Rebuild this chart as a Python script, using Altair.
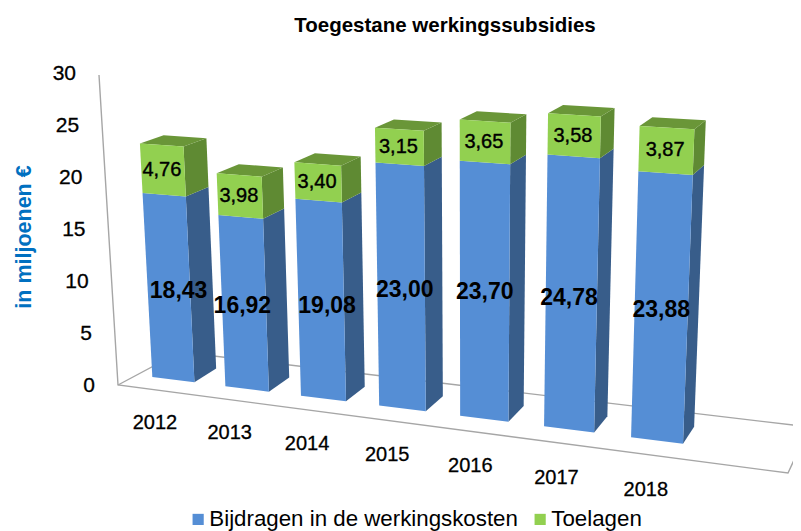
import numpy as np
import altair as alt

# ---- chart values ----
years = ["2012", "2013", "2014", "2015", "2016", "2017", "2018"]
bijdragen = [18.43, 16.92, 19.08, 23.00, 23.70, 24.78, 23.88]
toelagen = [4.76, 3.98, 3.40, 3.15, 3.65, 3.58, 3.87]
ticks = [0, 5, 10, 15, 20, 25, 30]
series_names = ["Bijdragen in de werkingskosten", "Toelagen"]

# ---- view: a 3-D perspective camera, calibrated against the bars' corners ----
OX, OY, W, H = 8, 48, 785, 483
BAR_W = 0.58
CAL = [  # front-bottom L,R / back-bottom R / mid L,R / top front L,R / top back R,L
    [(152,377),(194,381),(217,369),(143,192),(186,196),(140,143),(184,147),(207,138),(163,135)],
    [(226,386),(268,390),(289,378),(218,216),(262,219),(217,173),(261,177),(284,167),(237,164)],
    [(301,397),(346,401),(365,386),(296,198),(343,203),(294,163),(342,166),(361,157),(313,154)],
    [(380,406),(426,412),(443,397),(377,163),(425,166),(376,127),(424,131),(442,122),(394,119)],
    [(459,416),(508,422),(524,407),(459,161),(509,164),(459,120),(509,123),(527,114),(477,112)],
    [(544,426),(594,433),(607,417),(547,155),(599,159),(548,113),(601,116),(616,108),(562,106)],
    [(632,437),(683,445),(694,423),(639,171),(693,175),(640,125),(694,128),(706,120),(652,118)],
]
rows, rhs = [], []
for i, pts in enumerate(CAL):
    b, t = bijdragen[i], bijdragen[i] + toelagen[i]
    world = [(i,0,0),(i+BAR_W,0,0),(i+BAR_W,1,0),(i,0,b),(i+BAR_W,0,b),(i,0,t),(i+BAR_W,0,t),(i+BAR_W,1,t),(i,1,t)]
    for (u,d,v),(px,py) in zip(world, pts):
        rows.append([u,d,v,1,0,0,0,0,-px*u,-px*d,-px*v]); rhs.append(px)
        rows.append([0,0,0,0,u,d,v,1,-py*u,-py*d,-py*v]); rhs.append(py)
P = np.linalg.lstsq(np.array(rows,float), np.array(rhs,float), rcond=None)[0]
def proj(u,d,v):
    w = P[8]*u + P[9]*d + P[10]*v + 1
    return (float((P[0]*u+P[1]*d+P[2]*v+P[3])/w), float((P[4]*u+P[5]*d+P[6]*v+P[7])/w))

def poly(corners, **props):
    ring = [list(proj(*c)) for c in corners]
    ring.append(ring[0])
    return {"type":"Feature","properties":props,"geometry":{"type":"Polygon","coordinates":[ring]}}

fronts, sides, tops = [], [], []
for i in range(len(years)):
    a, b = i, i + BAR_W
    base = 0
    for name, val, side_col in zip(series_names, (bijdragen[i], toelagen[i]), ("#385D8A", "#5F8A33")):
        top = base + val
        fronts.append(poly([(a,0,base),(b,0,base),(b,0,top),(a,0,top)], series=name))
        sides.append(poly([(b,0,base),(b,1,base),(b,1,top),(b,0,top)], col=side_col))
        base = top
    tops.append(poly([(a,0,base),(b,0,base),(b,1,base),(a,1,base)], col="#6A9638"))

geo = dict(type="identity", scale=1, translate=[-OX, -OY])
x_s = alt.X("x:Q", scale=alt.Scale(domain=[OX, OX+W]), axis=None)
y_s = alt.Y("y:Q", scale=alt.Scale(domain=[OY+H, OY]), axis=None)

frame_lines = [
    [(99,75),(118,385),(788,473),(801,445)],
    [(118,385),(180,352),(801,426)],
]
frame = alt.Chart(alt.Data(values=[{"type":"Feature","properties":{},"geometry":{"type":"LineString","coordinates":[list(p) for p in l]}} for l in frame_lines])
    ).mark_geoshape(filled=False, stroke="#A6A6A6", strokeWidth=1.4).project(**geo)
side_l = alt.Chart(alt.Data(values=sides)).mark_geoshape(strokeWidth=0).encode(fill=alt.Fill("properties.col:N", scale=None, legend=None)).project(**geo)
top_l = alt.Chart(alt.Data(values=tops)).mark_geoshape(strokeWidth=0).encode(fill=alt.Fill("properties.col:N", scale=None, legend=None)).project(**geo)
front_l = alt.Chart(alt.Data(values=fronts)).mark_geoshape(strokeWidth=0).encode(
    color=alt.Color("properties.series:N", sort=series_names,
        scale=alt.Scale(domain=series_names, range=["#558ED5", "#92D050"]),
        legend=alt.Legend(title=None, orient="none", legendX=187-OX, legendY=508-OY, direction="horizontal",
                          symbolType="square", symbolSize=125, labelFontSize=22.3, labelFont="Liberation Sans",
                          labelColor="#000000", columnPadding=11, symbolStrokeWidth=0, labelOffset=0, labelLimit=400))).project(**geo)

font = "Liberation Sans"
def text_layer(rows, size, bold=False, align="center", color="#000000", thick=0.0):
    kw = dict(stroke=color, strokeWidth=thick) if thick else {}
    return alt.Chart(alt.Data(values=rows)).mark_text(font=font, fontSize=size, fontWeight="bold" if bold else "normal",
        align=align, baseline="middle", color=color, **kw).encode(x=x_s, y=y_s, text="t:N")

# small placement corrections of the labels, in pixels
blue_dx, blue_dy = [5,-6,2,0,-3,-5,-2], [0,-1,2,-2,-4,-1,-3]
blue_rows, green_rows, year_rows = [], [], []
for i in range(len(years)):
    c = i + BAR_W/2
    x, y = proj(c, 0.2, bijdragen[i]/2 - 0.5)
    blue_rows.append({"x":x+blue_dx[i],"y":y+blue_dy[i],"t":f"{bijdragen[i]:.2f}".replace(".",",")})
    x, y = proj(c, 0, bijdragen[i] + toelagen[i]/2)
    green_rows.append({"x":x-1,"y":y,"t":f"{toelagen[i]:.2f}".replace(".",",")})
    x, y = proj(c, -0.9, -3)
    year_rows.append({"x":x+1,"y":y+1,"t":years[i]})

tick_rows = [{"x": 95 - 19*t/30, "y": 386 - 312*t/30, "t": str(t)} for t in ticks]

ytitle = alt.Chart(alt.Data(values=[{"x":25,"y":237,"t":"in miljoenen €"}])).mark_text(font=font, fontSize=21.5, fontWeight="bold",
    align="center", baseline="middle", color="#0070C0", angle=270).encode(x=x_s, y=y_s, text="t:N")

chart = alt.layer(
    frame, side_l, top_l, front_l,
    text_layer(blue_rows, 23, True),
    text_layer(green_rows, 20, thick=0.4),
    text_layer(year_rows, 20, thick=0.3),
    text_layer(tick_rows, 21, align="right", thick=0.3),
    ytitle,
).properties(width=W, height=H,
    title=alt.TitleParams("Toegestane werkingssubsidies", font=font, fontSize=20.5, fontWeight="bold", color="#000000",
                          anchor="middle", frame="group", dx=44.5, offset=12),
    padding={"left":0,"top":OY-8,"right":0,"bottom":0},
    autosize=alt.AutoSizeParams(type="none"),
).configure_view(stroke=None)

chart.save("out.html", embed_options={"renderer": "svg", "actions": False})
